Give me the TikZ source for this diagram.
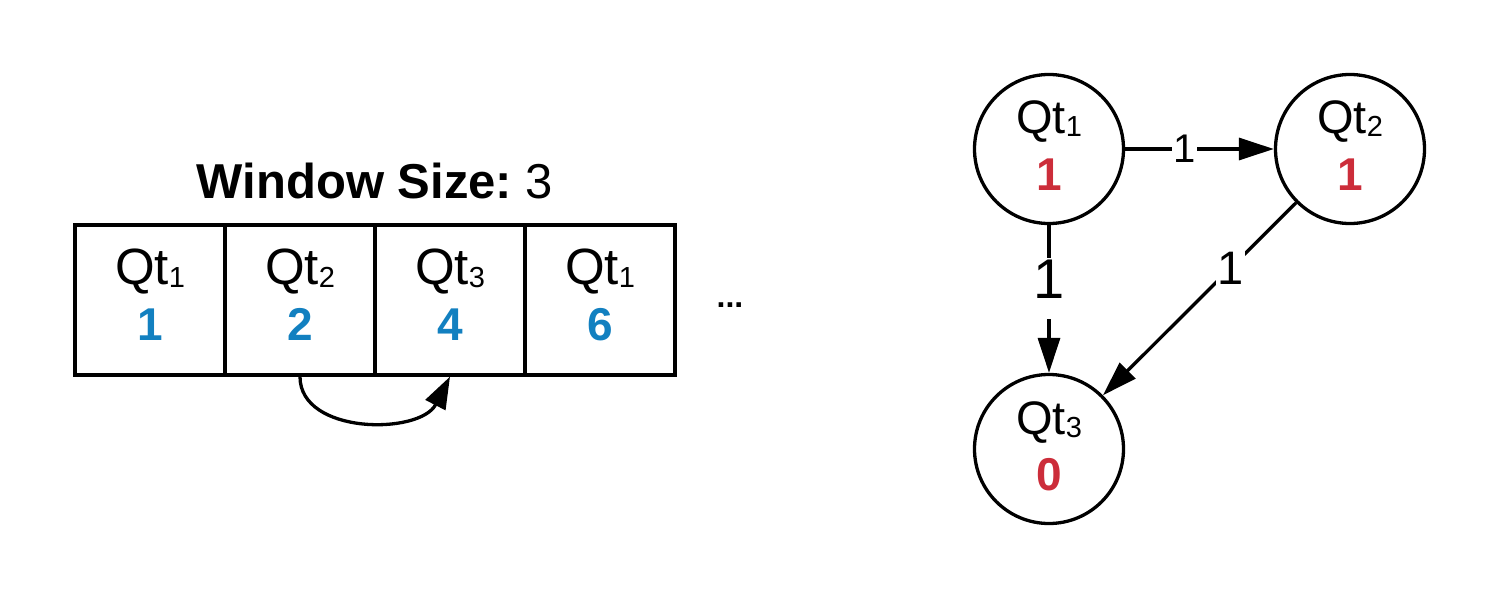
\documentclass[tikz,border=0pt]{standalone}
\usepackage{fontspec}
\setmainfont{Liberation Sans}
\usetikzlibrary{arrows.meta,calc}
\definecolor{numblue}{RGB}{18,128,192}
\definecolor{numred}{RGB}{204,45,58}
\newcommand{\fsz}[1]{\fontsize{#1}{#1}\selectfont}
\newcommand{\qtlabel}[1]{Qt\raisebox{-3pt}{\fsz{29}#1}}
\frenchspacing
\begin{document}
\begin{tikzpicture}[x=1pt,y=-1pt,
  cellbox/.style={draw, line width=3.3pt, minimum width=150pt, minimum height=150pt, inner sep=0pt},
  qtext/.style={anchor=base, inner sep=0pt, font=\fsz{51}},
  gqtext/.style={anchor=base, inner sep=0pt, font=\fsz{47}},
  bnum/.style={anchor=base, inner sep=0pt, text=numblue, font=\fsz{46}\bfseries},
  rnum/.style={anchor=base, inner sep=0pt, text=numred, font=\fsz{46}\bfseries},
  circnode/.style={circle, draw, line width=3.3pt, minimum size=149pt, inner sep=0pt},
  gedge/.style={line width=3.3pt, -{Triangle[length=35pt,width=22pt]}},
  carrow/.style={line width=3.3pt, -{Triangle[length=32pt,width=22pt]}},
  lbl/.style={fill=white, inner sep=1.5pt}
]
\useasboundingbox (0,0) rectangle (1500,600);

% title
\node[anchor=base, inner sep=0pt] (title) at (375,198) {\fsz{49}\textbf{Window Size:}\ 3};

% window cells
\node[cellbox] (c1) at (150,300) {};
\node[cellbox] (c2) at (300,300) {};
\node[cellbox] (c3) at (450,300) {};
\node[cellbox] (c4) at (600,300) {};

\node[qtext] (t1) at (150,284) {\qtlabel{1}};
\node[qtext] (t2) at (300,284) {\qtlabel{2}};
\node[qtext] (t3) at (450,284) {\qtlabel{3}};
\node[qtext] (t4) at (600,284) {\qtlabel{1}};

\node[bnum] (n1) at (150,340) {1};
\node[bnum] (n2) at (300,340) {2};
\node[bnum] (n3) at (450,340) {4};
\node[bnum] (n4) at (600,340) {6};

\node[anchor=base, inner sep=0pt] (dots) at (730,307) {\fsz{32}\bfseries ...};

% curved arrow
\draw[carrow] (c2.south) .. controls (300,435) and (420,435) .. (c3.south);

% graph
\node[circnode] (q1) at (1049,149) {};
\node[circnode] (q2) at (1350,149) {};
\node[circnode] (q3) at (1049,449) {};

\node[gqtext] (g1) at (1049,133) {\qtlabel{1}};
\node[gqtext] (g2) at (1350,133) {\qtlabel{2}};
\node[gqtext] (g3) at (1049,434) {\qtlabel{3}};
\node[rnum] (r1) at (1049,190) {1};
\node[rnum] (r2) at (1350,190) {1};
\node[rnum] (r3) at (1049,490) {0};

\draw[gedge] (q1) -- node[lbl, font=\fsz{40}, pos=0.4] (e12) {1} (q2);
\draw[gedge] (q1) -- node[lbl, font=\fsz{56}, pos=0.43, inner sep=2pt, text depth=18pt] (e13) {1} (q3);
\draw[gedge] (q2) -- node[lbl, font=\fsz{47}, pos=0.34] (e23) {1} (q3);
\end{tikzpicture}
\end{document}
